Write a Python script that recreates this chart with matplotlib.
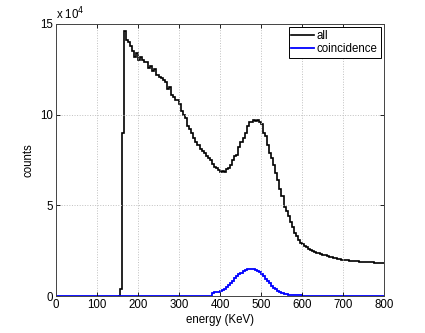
import numpy as np
import matplotlib; matplotlib.use("Agg")
import matplotlib.pyplot as plt

# histogram of all events, 5 keV bins starting at 150 keV (counts in units of 1e4)
all_start = 150
bin_w = 5
all_counts = [0.0, 0.4, 9.0, 14.6, 14.1, 14.0, 13.8, 13.5, 13.2, 13.4,
              13.0, 13.2, 13.0, 12.9, 12.9, 12.6, 12.7, 12.4, 12.5, 12.2,
              12.1, 12.0, 11.9, 11.8, 11.4, 11.5, 11.1, 11.0, 10.8, 10.8,
              10.6, 10.2, 10.0, 9.8, 9.4, 9.2, 9.0, 8.7, 8.5, 8.3,
              8.1, 8.0, 7.9, 7.7, 7.6, 7.5, 7.3, 7.1, 7.05, 6.95,
              6.85, 6.9, 6.85, 7.0, 7.05, 7.2, 7.5, 7.7, 7.8, 8.2,
              8.5, 8.7, 9.0, 9.4, 9.6, 9.6, 9.72, 9.65, 9.72, 9.6,
              9.5, 9.0, 8.8, 8.3, 7.9, 7.6, 7.2, 6.8, 6.4, 5.9,
              5.5, 4.9, 4.7, 4.4, 4.1, 3.8, 3.5, 3.3, 3.1, 2.95,
              2.85, 2.75, 2.7, 2.6, 2.55, 2.5, 2.45, 2.4, 2.35, 2.3,
              2.27, 2.24, 2.2, 2.17, 2.14, 2.1, 2.08, 2.06, 2.03, 2.0,
              1.99, 1.98, 1.97, 1.95, 1.94, 1.93, 1.92, 1.91, 1.9, 1.9,
              1.89, 1.88, 1.87, 1.86, 1.85, 1.84, 1.83, 1.82, 1.81, 1.8]

# coincidence histogram, 5 keV bins starting at 380 keV
coin_start = 380
coin_counts = [0.18, 0.2, 0.22, 0.23, 0.26, 0.32, 0.4, 0.5, 0.6, 0.72,
               0.85, 0.97, 1.08, 1.2, 1.28, 1.36, 1.42, 1.47, 1.5, 1.5,
               1.49, 1.45, 1.38, 1.3, 1.2, 1.08, 0.95, 0.82, 0.7, 0.58,
               0.47, 0.37, 0.29, 0.22, 0.17, 0.13, 0.1, 0.08, 0.07, 0.06,
               0.05, 0.04, 0.035, 0.03, 0.025, 0.02, 0.015, 0.01, 0.005, 0.0]

x_ticks = [0, 100, 200, 300, 400, 500, 600, 700, 800]
y_ticks = [0, 5, 10, 15]

plt.rcParams["font.family"] = ["Liberation Sans", "DejaVu Sans"]
fs = 8.3
fig = plt.figure(figsize=(4.25, 3.33), dpi=100)
ax = fig.add_axes([0.1318, 0.111, 0.7717, 0.817])

all_edges = all_start + bin_w * np.arange(len(all_counts) + 1)
coin_edges = coin_start + bin_w * np.arange(len(coin_counts) + 1)
# coincidence is zero outside its bins: pad with flat segments to the axis ends
coin_v = np.concatenate([[0.0], coin_counts, [0.0]])
coin_e = np.concatenate([[0.0], coin_edges, [800.0]])

ax.stairs(all_counts, all_edges, color="black", lw=1.2, label="all", baseline=None)
ax.stairs(coin_v, coin_e, color="blue", lw=1.3, label="coincidence", baseline=None)

ax.set_xlim(0, 800); ax.set_ylim(0, 15)
ax.set_xticks(x_ticks); ax.set_yticks(y_ticks)
ax.tick_params(direction="in", top=True, right=True, labelsize=fs, length=3, width=0.6, pad=2)
ax.grid(True, ls=":", color="#c0c0c0", lw=0.7)
for s in ax.spines.values(): s.set_linewidth(0.7); s.set_color("#444")
ax.set_xlabel("energy (KeV)", fontsize=fs, labelpad=2)
ax.set_ylabel("counts", fontsize=fs, labelpad=4)
ax.text(0.0, 1.005, "x 10$^4$", transform=ax.transAxes, fontsize=fs, va="bottom", ha="left")
leg = ax.legend(loc="upper right", fontsize=fs, handlelength=2.0, handletextpad=0.2,
                borderpad=0.25, labelspacing=0.1, fancybox=False, framealpha=1,
                borderaxespad=0.3)
leg.get_frame().set_edgecolor("black"); leg.get_frame().set_linewidth(0.7)

fig.savefig("out.png", dpi=100)
